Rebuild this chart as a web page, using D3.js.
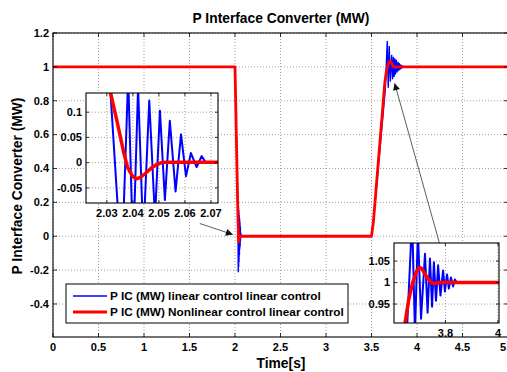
<!DOCTYPE html>
<html>
<head>
<meta charset="utf-8">
<script src="https://cdn.jsdelivr.net/npm/d3@7"></script>
<style>
  body { margin: 0; background: #fff; }
  svg { display: block; font-family: "Liberation Sans", Arial, sans-serif; font-weight: bold; }
  .grid line { stroke: #8a8a8a; stroke-width: 0.8; stroke-dasharray: 1,2; }
</style>
</head>
<body>
<figure id="chart" style="margin:0"></figure>
<script>
// main axis ticks
const xTicks = [0, 0.5, 1, 1.5, 2, 2.5, 3, 3.5, 4, 4.5, 5];
const yTicks = [-0.4, -0.2, 0, 0.2, 0.4, 0.6, 0.8, 1, 1.2];

// P IC, nonlinear control (red)
const redTime = [0, 2.0, 2.0314, 2.034, 2.0365, 2.038, 2.04, 2.0414, 2.043, 2.0453, 2.0475, 2.0491, 2.051, 2.053,
  3.5, 3.52, 3.646, 3.66, 3.675, 3.69, 3.697, 3.703, 3.71, 3.72, 3.73, 3.74, 3.75, 3.76, 3.78, 5];
const redValue = [1, 1, 0.139, 0.08, 0.02, -0.01, -0.028, -0.032, -0.029, -0.019, -0.009, -0.004, 0, 0.001,
  0, 0.08, 0.906, 0.96, 1.0, 1.026, 1.033, 1.035, 1.032, 1.022, 1.012, 1.004, 0.999, 0.998, 1.0, 1.0];

// P IC, linear control (blue)
const blueTime = [0, 2.0, 2.0314, 2.0357, 2.0382, 2.0401, 2.042, 2.044, 2.0463, 2.0485, 2.0504, 2.0523, 2.0542, 2.0564, 2.0585, 2.0604, 2.0623, 2.0645, 2.0664, 2.068,
  3.5, 3.52, 3.652, 3.673, 3.684, 3.695, 3.707, 3.722, 3.732, 3.741, 3.749, 3.756, 3.764, 3.772, 3.781, 3.791, 3.798, 3.806, 3.813, 3.821, 3.829, 3.836, 3.844, 5];
const blueValue = [1, 1, 0.139, -0.21, 0.17, -0.18, 0.15, -0.15, 0.123, -0.11, 0.103, -0.074, 0.083, -0.057, 0.056, -0.027, 0.019, -0.009, 0.013, 0,
  0, 0.08, 0.87, 1.15, 0.88, 1.12, 0.916, 1.067, 0.93, 1.056, 0.944, 1.047, 0.958, 1.04, 0.97, 1.028, 0.979, 1.019, 0.986, 1.012, 0.991, 1.007, 1.0, 1.0];

// zoom insets
const inset1XTicks = [2.03, 2.04, 2.05, 2.06, 2.07];
const inset1YTicks = [-0.05, 0, 0.05, 0.1];
const inset2XTicks = [3.8, 4];
const inset2YTicks = [0.95, 1, 1.05];

const seriesNames = ["P IC (MW) linear control linear control", "P IC (MW) Nonlinear control linear control"];
const seriesColors = ["#0000ff", "#ff0000"];

// arrows, data coords [t0, v0, t1, v1]
const arrows = [[1.614, 0.075, 1.976, 0.01], [4.248, -0.043, 3.754, 0.904]];

const W = 507, H = 372;
const margin = { left: 53, top: 33, right: 508, bottom: 337 };

const blue = blueTime.map((t, i) => [t, blueValue[i]]);
const red = redTime.map((t, i) => [t, redValue[i]]);

const svg = d3.select("#chart").append("svg")
  .attr("width", W).attr("height", H);

svg.append("defs").append("marker")
  .attr("id", "arr").attr("viewBox", "0 0 10 10")
  .attr("refX", 10).attr("refY", 5)
  .attr("markerWidth", 9).attr("markerHeight", 7)
  .attr("markerUnits", "userSpaceOnUse")
  .attr("orient", "auto")
  .append("path").attr("d", "M0,0L10,5L0,10z").attr("fill", "#111");

function drawPanel(opts) {
  const { x0, y0, x1, y1, xDom, yDom, xt, yt, lw, id, fs, tick } = opts;
  const x = d3.scaleLinear().domain(xDom).range([x0, x1]);
  const y = d3.scaleLinear().domain(yDom).range([y1, y0]);
  const g = svg.append("g");

  g.append("rect").attr("x", x0).attr("y", y0).attr("width", x1 - x0).attr("height", y1 - y0)
    .attr("fill", "#fff");

  // grid
  const grid = g.append("g").attr("class", "grid");
  grid.selectAll(".gx").data(xt).enter().append("line")
    .attr("x1", d => x(d)).attr("x2", d => x(d)).attr("y1", y0).attr("y2", y1);
  grid.selectAll(".gy").data(yt).enter().append("line")
    .attr("y1", d => y(d)).attr("y2", d => y(d)).attr("x1", x0).attr("x2", x1);

  g.append("clipPath").attr("id", id).append("rect")
    .attr("x", x0).attr("y", y0).attr("width", x1 - x0).attr("height", y1 - y0);

  const line = d3.line().x(d => x(d[0])).y(d => y(d[1]));
  const lines = g.append("g").attr("clip-path", "url(#" + id + ")");
  lines.append("path").datum(blue).attr("d", line)
    .attr("fill", "none").attr("stroke", seriesColors[0]).attr("stroke-width", lw[0])
    .attr("stroke-linejoin", "round");
  lines.append("path").datum(red).attr("d", line)
    .attr("fill", "none").attr("stroke", seriesColors[1]).attr("stroke-width", lw[1])
    .attr("stroke-linejoin", "round");

  // inward ticks on all sides
  const tk = g.append("g").attr("stroke", "#000").attr("stroke-width", 0.8);
  xt.forEach(d => {
    tk.append("line").attr("x1", x(d)).attr("x2", x(d)).attr("y1", y1).attr("y2", y1 - tick);
    tk.append("line").attr("x1", x(d)).attr("x2", x(d)).attr("y1", y0).attr("y2", y0 + tick);
  });
  yt.forEach(d => {
    tk.append("line").attr("y1", y(d)).attr("y2", y(d)).attr("x1", x0).attr("x2", x0 + tick);
    tk.append("line").attr("y1", y(d)).attr("y2", y(d)).attr("x1", x1).attr("x2", x1 - tick);
  });

  g.append("rect").attr("x", x0).attr("y", y0).attr("width", x1 - x0).attr("height", y1 - y0)
    .attr("fill", "none").attr("stroke", "#000").attr("stroke-width", 1.1);

  // keep last x label inside the window
  g.selectAll(".xl").data(xt).enter().append("text")
    .attr("x", d => Math.min(x(d), W - 1)).attr("y", y1 + fs + 3)
    .attr("text-anchor", d => x(d) > W - 4 ? "end" : "middle").attr("font-size", fs)
    .text(d => d);
  g.selectAll(".yl").data(yt).enter().append("text")
    .attr("x", x0 - 4).attr("y", d => y(d)).attr("dy", "0.35em")
    .attr("text-anchor", "end").attr("font-size", fs)
    .text(d => d);
  return { x, y };
}

const main = drawPanel({
  x0: margin.left, y0: margin.top, x1: margin.right, y1: margin.bottom,
  xDom: [0, 5], yDom: [-0.595, 1.2], xt: xTicks, yt: yTicks,
  lw: [1.4, 2.8], id: "clipMain", fs: 11, tick: 4
});

// titles
svg.append("text").attr("x", 281).attr("y", 23).attr("text-anchor", "middle")
  .attr("font-size", 13.8).text("P Interface Converter (MW)");
svg.append("text").attr("x", 281).attr("y", 368).attr("text-anchor", "middle")
  .attr("font-size", 13.8).text("Time[s]");
svg.append("text").attr("transform", "translate(22,186) rotate(-90)").attr("text-anchor", "middle")
  .attr("font-size", 13.8).text("P Interface Converter (MW)");

// arrows
svg.selectAll(".arrow").data(arrows).enter().append("line")
  .attr("x1", d => main.x(d[0])).attr("y1", d => main.y(d[1]))
  .attr("x2", d => main.x(d[2])).attr("y2", d => main.y(d[3]))
  .attr("stroke", "#333").attr("stroke-width", 0.8)
  .attr("marker-end", "url(#arr)");

// insets
drawPanel({
  x0: 86, y0: 93, x1: 218, y1: 203,
  xDom: [2.022, 2.0727], yDom: [-0.08, 0.138], xt: inset1XTicks, yt: inset1YTicks,
  lw: [2, 3.5], id: "clipIn1", fs: 11, tick: 3
});
drawPanel({
  x0: 394, y0: 243, x1: 499, y1: 323,
  xDom: [3.604, 4.004], yDom: [0.906, 1.092], xt: inset2XTicks, yt: inset2YTicks,
  lw: [2, 3.5], id: "clipIn2", fs: 11, tick: 3
});

// legend
const lg = svg.append("g");
lg.append("rect").attr("x", 66).attr("y", 284).attr("width", 282).attr("height", 39)
  .attr("fill", "#fff").attr("stroke", "#000").attr("stroke-width", 1);
seriesNames.forEach((name, i) => {
  const ly = 296 + i * 16;
  lg.append("line").attr("x1", 73).attr("x2", 107).attr("y1", ly).attr("y2", ly)
    .attr("stroke", seriesColors[i]).attr("stroke-width", i ? 2.8 : 1.6);
  lg.append("text").attr("x", 110).attr("y", ly).attr("dy", "0.35em")
    .attr("font-size", 11.8).text(name);
});
</script>
</body>
</html>
